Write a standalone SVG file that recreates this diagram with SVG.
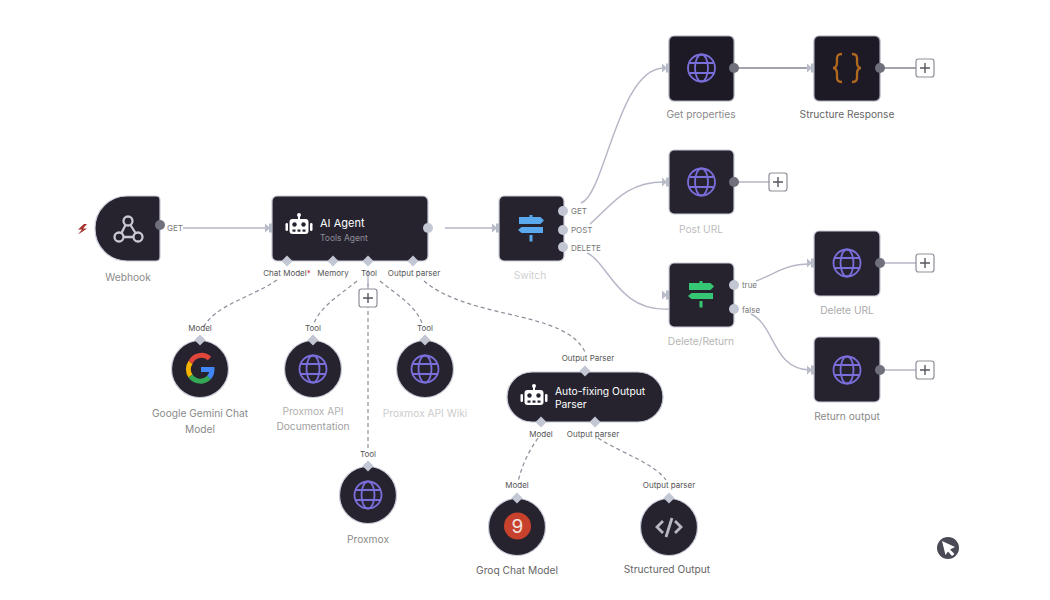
<svg xmlns="http://www.w3.org/2000/svg" width="1050" height="600" viewBox="0 0 1050 600">
<style>
text{font-family:"Inter","Liberation Sans",sans-serif}
.box{fill:#26232f;stroke:#c9cbd8;stroke-width:1.2}
.dark{fill:#1d1a26;stroke:#a9a9b8;stroke-width:1.2}
.lbl{font-size:10.2px;text-anchor:middle;fill:#8a8a8a}
.port-lbl{font-size:8px;fill:#777}
.port-c{font-size:8px;text-anchor:middle;fill:#555}
.wire{fill:none;stroke:#b4b6c6;stroke-width:1.4}
.wire2{fill:none;stroke:#85858f;stroke-width:1.4}
.dash{fill:none;stroke:#8d8d9b;stroke-width:1.2;stroke-dasharray:4 3}
.port{fill:#c2c7d3}
.port2{fill:#70707c}
.dia{fill:#c2c7d3}
.stub{fill:#b8bcc9}
.plus-b{fill:#fff;stroke:#8d8d98;stroke-width:1.2}
.plus-l{stroke:#55555f;stroke-width:1.4}
.globe{fill:none;stroke:#7a6edb;stroke-width:1.8}
</style>
<defs>
<g id="globe" class="globe"><circle r="13.5"/><ellipse rx="6.5" ry="13.5"/><path d="M-12-5H12M-12 5H12"/></g>
<g id="robot" fill="#fff">
<circle cx="0" cy="-11" r="2"/><rect x="-1" y="-10" width="2" height="4"/>
<rect x="-9.500" y="-7" width="19" height="15" rx="3"/>
<rect x="-13.500" y="-3" width="2.500" height="8" rx="1.2"/><rect x="11" y="-3" width="2.500" height="8" rx="1.2"/>
<g fill="#26232f"><circle cx="-4.500" cy="-1.500" r="2.200"/><circle cx="4.500" cy="-1.500" r="2.200"/><rect x="-6.500" y="3.500" width="3" height="2.200"/><rect x="-1.500" y="3.500" width="3" height="2.200"/><rect x="3.500" y="3.500" width="3" height="2.200"/></g>
</g>
<g id="sign">
<rect x="-1.500" y="-14" width="3" height="2.500"/>
<rect x="-1.500" y="6" width="3" height="6.500"/>
<path d="M-12-12H9.500L13-8.500 9.500-5H-12Z"/>
<path d="M12-2H-9.500L-13 1-9.500 4H12Z"/>
</g>
<path id="stub" class="stub" d="M-4-4.500L0-1V1L-4 4.500ZM0-4.500H3V4.500H0Z"/>
<g id="plus"><rect class="plus-b" x="-9" y="-9" width="18" height="18" rx="2.500"/><path class="plus-l" d="M-5 0H5M0-5V5"/></g>
<path id="dia" class="dia" d="M0-5.500L5.500 0 0 5.500-5.500 0Z"/>
</defs>

<g id="connectors">
<path class="wire" d="M183 228H268"/>
<path class="wire" d="M445 228H495"/>
<path class="wire" d="M581 203C605 195 618 68 664 68"/>
<path class="wire" d="M590 224C612 205 625 182 664 182"/>
<path class="wire" d="M587 253C608 262 618 312 669 309"/>
<path class="wire2" d="M734 68H810"/>
<path class="wire2" d="M880 68H916"/>
<path class="wire" d="M734 182H769"/>
<path class="wire" d="M880 263H916"/>
<path class="wire" d="M880 370H916"/>
<path class="wire" d="M756 281C775 274 785 264 810 264"/>
<path class="wire" d="M751 314C775 325 773 370 810 370"/>
<path class="dash" d="M277 280C250 298 215 305 203 328"/>
<path class="dash" d="M357 281C340 295 322 305 314 323"/>
<path class="dash" d="M368 283V450"/>
<path class="wire" d="M368 270V289"/>
<path class="dash" d="M380 281C397 295 415 305 422 323"/>
<path class="dash" d="M424 281C470 320 565 310 585 352"/>
<path class="dash" d="M538 438C528 452 521 468 518 482"/>
<path class="dash" d="M598 438C625 455 652 462 666 480"/>
</g>

<g id="webhook">
<path class="box" d="M127 196H156a4 4 0 0 1 4 4V257a4 4 0 0 1-4 4H127A32 32 0 0 1 95 229V228A32 32 0 0 1 127 196Z"/>
<g fill="none" stroke="#c9c9d2" stroke-width="2.300"><circle cx="128" cy="221" r="4.500"/><circle cx="119" cy="237" r="4.500"/><circle cx="138" cy="237" r="4.500"/><path d="M125.500 225L121.500 233M130.500 225L135.500 233M123.500 237H133.500"/></g>
<path d="M84 224L78 229.500H82L78 234.500L87 228.500H83L87 224Z" fill="#a3302a"/>
<circle class="port2" cx="160" cy="225" r="5"/>
<text class="port-lbl" x="167" y="231">GET</text>
<text class="lbl" x="128" y="281">Webhook</text>
</g>

<g id="ai-agent">
<rect class="box" x="272" y="196" width="156" height="65" rx="5"/>
<use href="#stub" x="269" y="228"/>
<use href="#robot" x="299" y="226"/>
<text x="320" y="227" font-size="11" fill="#fff">AI Agent</text>
<text x="320" y="241" font-size="8.500" fill="#8f8d98">Tools Agent</text>
<circle class="port" cx="428" cy="228" r="5"/>
<use href="#dia" x="287" y="261"/><use href="#dia" x="333" y="261"/><use href="#dia" x="368" y="261"/><use href="#dia" x="413" y="261"/>
<text class="port-c" x="287" y="276">Chat Model<tspan fill="#c33">*</tspan></text>
<text class="port-c" x="333" y="276">Memory</text>
<text class="port-c" x="369" y="276">Tool</text>
<text class="port-c" x="414" y="276">Output parser</text>
<use href="#plus" x="368" y="298"/>
</g>

<g id="switch">
<rect class="box" x="499" y="196" width="65" height="65" rx="5"/>
<use href="#stub" x="496" y="228"/>
<use href="#sign" x="531" y="229" fill="#5aa9ec"/>
<circle class="port" cx="563" cy="211" r="5"/><circle class="port" cx="563" cy="230" r="5"/><circle class="port" cx="563" cy="247" r="5"/>
<text class="port-lbl" x="571" y="214">GET</text>
<text class="port-lbl" x="571" y="232.500">POST</text>
<text class="port-lbl" x="571" y="250.500">DELETE</text>
<text class="lbl" x="530" y="279" style="fill:#cfcfcf">Switch</text>
</g>

<g id="get-properties">
<rect class="dark" x="669" y="36" width="65" height="65" rx="5"/>
<use href="#stub" x="666" y="68"/><use href="#globe" x="701.500" y="68"/>
<circle class="port2" cx="734" cy="68" r="5"/>
<text class="lbl" x="701" y="118">Get properties</text>
</g>

<g id="structure-response">
<rect class="dark" x="814" y="36" width="66" height="65" rx="5"/>
<use href="#stub" x="811" y="68"/>
<path d="M842 54C836 54 837 58 837 62C837 66 836 68 833 68C836 68 837 70 837 74C837 78 836 82 842 82M852 54C858 54 857 58 857 62C857 66 858 68 861 68C858 68 857 70 857 74C857 78 858 82 852 82" fill="none" stroke="#b0691f" stroke-width="2.300"/>
<circle class="port2" cx="880" cy="68" r="5"/>
<use href="#plus" x="925" y="68"/>
<text class="lbl" x="847" y="118" style="fill:#666">Structure Response</text>
</g>

<g id="post-url">
<rect class="box" x="669" y="150" width="65" height="64" rx="5"/>
<use href="#stub" x="666" y="182"/><use href="#globe" x="701.500" y="182"/>
<circle class="port2" cx="734" cy="182" r="5"/>
<use href="#plus" x="778" y="182"/>
<text class="lbl" x="701" y="233" style="fill:#bdbdbd">Post URL</text>
</g>

<g id="delete-return">
<rect class="box" x="669" y="263" width="65" height="64" rx="5"/>
<use href="#stub" x="666" y="295"/>
<use href="#sign" x="701" y="295" fill="#35c773"/>
<circle class="port" cx="734" cy="285" r="5"/><circle class="port" cx="734" cy="309" r="5"/>
<text class="port-lbl" x="742" y="288">true</text>
<text class="port-lbl" x="742" y="313">false</text>
<text class="lbl" x="701" y="345" style="fill:#b5b5b5">Delete/Return</text>
</g>

<g id="delete-url">
<rect class="box" x="814" y="231" width="66" height="65" rx="5"/>
<use href="#stub" x="811" y="263"/><use href="#globe" x="847" y="263"/>
<circle class="port2" cx="880" cy="263" r="5"/>
<use href="#plus" x="925" y="263"/>
<text class="lbl" x="847" y="314" style="fill:#aaa">Delete URL</text>
</g>

<g id="return-output">
<rect class="box" x="814" y="337" width="66" height="65" rx="5"/>
<use href="#stub" x="811" y="370"/><use href="#globe" x="847" y="370"/>
<circle class="port2" cx="880" cy="370" r="5"/>
<use href="#plus" x="925" y="370"/>
<text class="lbl" x="847" y="420">Return output</text>
</g>

<g id="gemini">
<circle class="box" cx="200" cy="369" r="28.500"/>
<g fill="none" stroke-width="5">
<path d="M209.500 358.500A12 12 0 0 0 190.500 362.500" stroke="#e0463a"/>
<path d="M190.500 362.500A12 12 0 0 0 190.500 376" stroke="#f4b400"/>
<path d="M190.500 376A12 12 0 0 0 209 377.500" stroke="#34a853"/>
<path d="M209 377.500A12 12 0 0 0 212 369.500H201" stroke="#4285f4"/>
</g>
<use href="#dia" x="200" y="340"/>
<text class="port-c" x="200" y="331">Model</text>
<text class="lbl" x="200" y="417">Google Gemini Chat</text>
<text class="lbl" x="200" y="433">Model</text>
</g>

<g id="proxmox-doc">
<circle class="box" cx="313" cy="369" r="28.500"/>
<use href="#globe" x="313" y="369"/>
<use href="#dia" x="313" y="340"/>
<text class="port-c" x="313" y="331">Tool</text>
<text class="lbl" x="313" y="415" style="fill:#b0b0b0">Proxmox API</text>
<text class="lbl" x="313" y="430" style="fill:#a0a0a0">Documentation</text>
</g>

<g id="proxmox-wiki">
<circle class="box" cx="425" cy="369" r="28.500"/>
<use href="#globe" x="425" y="369"/>
<use href="#dia" x="425" y="340"/>
<text class="port-c" x="425" y="331">Tool</text>
<text class="lbl" x="425" y="417" style="fill:#cbcbcb">Proxmox API Wiki</text>
</g>

<g id="proxmox">
<circle class="box" cx="368" cy="495" r="28.500"/>
<use href="#globe" x="368" y="495"/>
<use href="#dia" x="368" y="466"/>
<text class="port-c" x="368" y="457">Tool</text>
<text class="lbl" x="368" y="543">Proxmox</text>
</g>

<g id="auto-fixing">
<rect class="box" x="507" y="372" width="156" height="50" rx="25"/>
<use href="#robot" x="534" y="397"/>
<text x="555" y="395" font-size="10.300" fill="#fff">Auto-fixing Output</text>
<text x="555" y="407.500" font-size="10.300" fill="#fff">Parser</text>
<use href="#dia" x="585" y="371"/><use href="#dia" x="541" y="422"/><use href="#dia" x="595" y="422"/>
<text class="port-c" x="588" y="361">Output Parser</text>
<text class="port-c" x="541" y="437">Model</text>
<text class="port-c" x="593" y="437">Output parser</text>
</g>

<g id="groq">
<circle class="box" cx="517" cy="527" r="28.500"/>
<circle cx="517.500" cy="526" r="13.500" fill="#c8412d"/>
<text x="517.500" y="533" font-size="19" text-anchor="middle" fill="#f3e6e0">9</text>
<use href="#dia" x="517" y="498"/>
<text class="port-c" x="517" y="488">Model</text>
<text class="lbl" x="517" y="574" style="fill:#666">Groq Chat Model</text>
</g>

<g id="structured-output">
<circle class="box" cx="669" cy="527" r="28.500"/>
<path d="M663 521L657 527 663 533M675 521L681 527 675 533M672 518L666 537" fill="none" stroke="#b8b8c0" stroke-width="2.800"/>
<use href="#dia" x="669" y="498"/>
<text class="port-c" x="669" y="488">Output parser</text>
<text class="lbl" x="667" y="573" style="fill:#666">Structured Output</text>
</g>

<g id="cursor">
<circle cx="948" cy="548" r="11" fill="#4a4a57"/>
<path d="M942 541L955 547 950 549.500 954.500 554 952 556 948 551.500 945.500 555Z" fill="#fff"/>
</g>
</svg>
